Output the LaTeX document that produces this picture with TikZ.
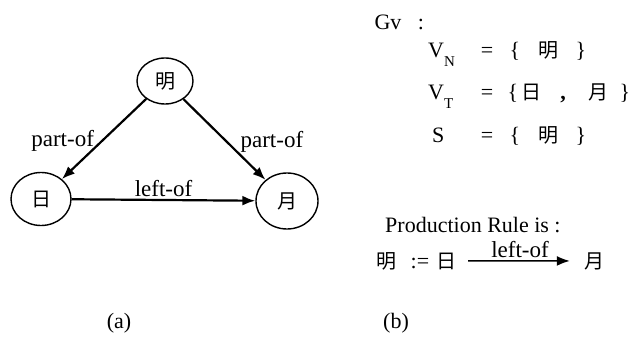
\documentclass[tikz,border=0pt]{standalone}
\usepackage{fontspec}
\setmainfont{Liberation Serif}
\newfontfamily\cjk{Noto Sans CJK SC}
\usetikzlibrary{arrows.meta,positioning,shapes.geometric}
\newcommand{\lowsub}[1]{\raisebox{-0.4em}{\fontsize{15}{15}\selectfont #1}}

\begin{document}
\begin{tikzpicture}[
  x=1pt, y=-1pt,
  vert/.style={
    ellipse,
    draw,
    line width=1.4pt,
    inner sep=0pt,
    minimum width=60pt,
    minimum height=53pt,
    font=\fontsize{20}{20}\selectfont\cjk
  },
  rel/.style={-{Latex[length=13pt,width=10pt]}, line width=2.2pt},
  lbl/.style={font=\fontsize{23}{24}\selectfont, inner sep=2pt},
  txt/.style={font=\fontsize{22}{26}\selectfont, inner sep=0pt, anchor=base},
  hz/.style={font=\fontsize{20}{22}\selectfont\cjk, inner sep=0pt, anchor=base}
]
\useasboundingbox (0,0) rectangle (644,347);

% graph (a)
\node[vert, minimum width=56pt, minimum height=46pt] (ming) at (165,81) {明};
\node[vert] (ri) at (41,199) {日};
\node[vert, minimum width=62pt, minimum height=56pt] (yue) at (287,201) {月};

\draw[rel] (ming) -- node[lbl, left, inner sep=6pt, xshift=-3pt, yshift=-2pt]{part-of} (ri);
\draw[rel] (ming) -- node[lbl, right, inner sep=6pt, xshift=9pt, yshift=-2pt]{part-of} (yue);
\draw[rel] (ri) -- node[lbl, above]{left-of} (yue);

\node[txt] (capa) at (119,328) {(a)};

% grammar (b)
\node[txt] (gv) at (388,30) {Gv};
\node[txt] (gvcol) at (421,30) {:};

\node[txt, anchor=base west] (vn) at (428,58) {V\lowsub{N}};
\node[txt] (vneq) at (487,58) {=};
\node[txt] (vnl) at (515,58) {\{};
\node[hz] (vnm) at (548,58) {明};
\node[txt] (vnr) at (581,58) {\}};

\node[txt, anchor=base west] (vt) at (428,100) {V\lowsub{T}};
\node[txt] (vteq) at (487,100) {=};
\node[txt] (vtl) at (513,100) {\{};
\node[hz] (vtr) at (531,100) {日};
\node[txt] (vtc) at (563,100) {\textbf{,}};
\node[hz] (vty) at (598,100) {月};
\node[txt] (vtrb) at (625,100) {\}};

\node[txt, anchor=base west] (s) at (432,143) {S};
\node[txt] (seq) at (487,143) {=};
\node[txt] (sl) at (515,143) {\{};
\node[hz] (sm) at (548,143) {明};
\node[txt] (sr) at (581,143) {\}};

\node[txt, anchor=base west] (rule) at (385,232) {Production Rule is :};
\node[hz] (ming2) at (386,268) {明};
\node[txt] (defs) at (420,268) {:=};
\node[hz] (ri2) at (446,268) {日};
\node[hz] (yue2) at (594,268) {月};
\draw[rel, line width=1.5pt, shorten <=12pt, shorten >=14pt] (ri2) -- node[lbl, above]{left-of} (yue2);

\node[txt] (capb) at (396,328) {(b)};
\end{tikzpicture}
\end{document}
